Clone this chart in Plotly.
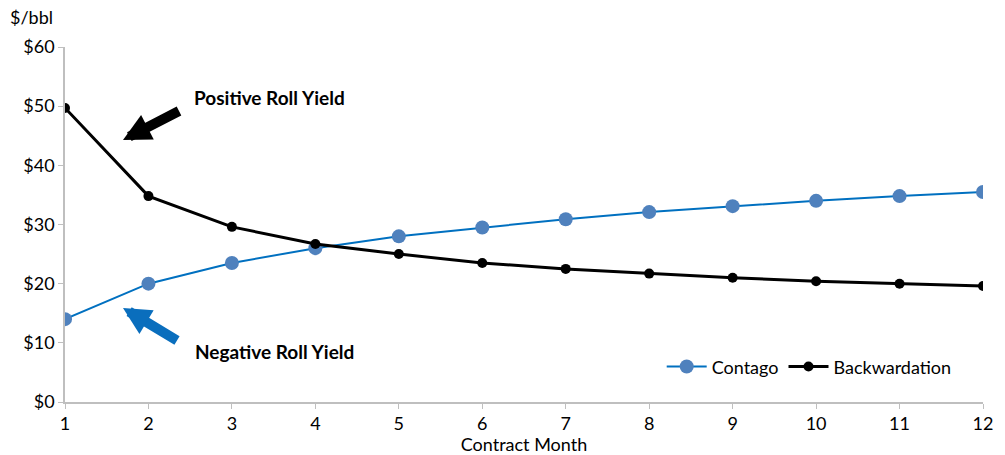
import plotly.graph_objects as go

# Futures curve: price per contract month
months = [1, 2, 3, 4, 5, 6, 7, 8, 9, 10, 11, 12]
contango = [14.0, 20.0, 23.5, 26.0, 28.0, 29.5, 30.9, 32.1, 33.1, 34.0, 34.8, 35.5]
backwardation = [49.7, 34.8, 29.6, 26.7, 25.0, 23.5, 22.5, 21.7, 21.0, 20.4, 20.0, 19.6]
y_ticks = [0, 10, 20, 30, 40, 50, 60]
y_tick_labels = ["$0", "$10", "$20", "$30", "$40", "$50", "$60"]

FONT = "Lato"
FS = 18
AXIS_GRAY = "#bfbfbf"

fig = go.Figure()
fig.add_trace(go.Scatter(
    x=months, y=contango, name="Contago", mode="lines+markers",
    line=dict(color="#0070c0", width=2),
    marker=dict(color="#4f81bd", size=14),
))
fig.add_trace(go.Scatter(
    x=months, y=backwardation, name="Backwardation", mode="lines+markers",
    line=dict(color="#000000", width=3),
    marker=dict(color="#000000", size=10),
))

# Arrows pointing at the front of each curve
fig.add_annotation(x=1.695, y=44.3, xref="x", yref="y", text=" ",
                   showarrow=True, ax=60, ay=-31, arrowhead=2, arrowsize=0.55,
                   arrowwidth=10, arrowcolor="#000000", standoff=0)
fig.add_annotation(x=1.695, y=15.9, xref="x", yref="y", text=" ",
                   showarrow=True, ax=58, ay=35, arrowhead=2, arrowsize=0.55,
                   arrowwidth=10, arrowcolor="#0a6ebd", standoff=0)
fig.add_annotation(x=192, y=97, xref="paper", yref="paper", text="<b>Positive Roll Yield</b>",
                   showarrow=False, xanchor="left", yanchor="middle",
                   font=dict(family=FONT, size=19, color="#000000"))
fig.add_annotation(x=193, y=351, xref="paper", yref="paper", text="<b>Negative Roll Yield</b>",
                   showarrow=False, xanchor="left", yanchor="middle",
                   font=dict(family=FONT, size=19, color="#000000"))
fig.add_annotation(x=8, y=17, xref="paper", yref="paper", text="$/bbl",
                   showarrow=False, xanchor="left", yanchor="middle",
                   font=dict(family=FONT, size=FS, color="#000000"))

W, H = 1005, 455
ML, MR, MT, MB = 65, 22, 47, 53
# convert the pixel-positioned text annotations to paper coordinates
for ann in fig.layout.annotations:
    if ann.xref == "paper":
        ann.x = (ann.x - ML) / (W - ML - MR)
        ann.y = 1 - (ann.y - MT) / (H - MT - MB)

fig.update_layout(
    width=W, height=H,
    margin=dict(l=ML, r=MR, t=MT, b=MB, autoexpand=False),
    paper_bgcolor="white", plot_bgcolor="white",
    font=dict(family=FONT, size=FS, color="#000000"),
    showlegend=True,
    legend=dict(orientation="h", x=0.65, y=0.099, xanchor="left", yanchor="middle",
                font=dict(family=FONT, size=FS), bgcolor="rgba(0,0,0,0)",
                itemwidth=40, tracegroupgap=0),
)
fig.update_xaxes(
    range=[1, 12], tickvals=months, showgrid=False, zeroline=False,
    showline=True, linecolor=AXIS_GRAY, linewidth=1.5,
    ticks="outside", ticklen=5, tickcolor=AXIS_GRAY, automargin=False,
    title=dict(text="Contract Month", standoff=0, font=dict(family=FONT, size=FS)),
    tickfont=dict(family=FONT, size=FS),
)
fig.update_yaxes(
    range=[0, 60], tickvals=y_ticks, ticktext=y_tick_labels, showgrid=False,
    zeroline=False, showline=True, linecolor=AXIS_GRAY, linewidth=1.5,
    ticks="outside", ticklen=5, tickcolor=AXIS_GRAY, automargin=False,
    tickfont=dict(family=FONT, size=FS),
)

fig.write_html("out.html")
